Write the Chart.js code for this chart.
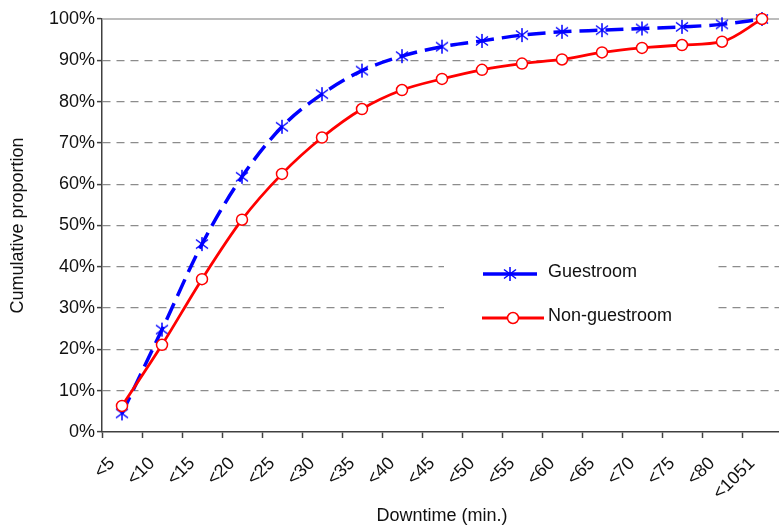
<!DOCTYPE html>
<html>
<head>
<meta charset="utf-8">
<script src="https://cdn.jsdelivr.net/npm/chart.js@4/dist/chart.umd.min.js"></script>
<style>
  html, body { margin: 0; padding: 0; overflow: hidden; background: #fff; }
</style>
</head>
<body>
<canvas id="c" width="790" height="532"></canvas>
<script>
// categories and series (proportions 0..1)
const categories = ['<5','<10','<15','<20','<25','<30','<35','<40','<45','<50','<55','<60','<65','<70','<75','<80','<1051'];
const guestroom = [0.045,0.248,0.455,0.618,0.739,0.818,0.875,0.910,0.933,0.947,0.961,0.969,0.973,0.977,0.981,0.987,1.0];
const nonGuestroom = [0.063,0.211,0.370,0.514,0.625,0.713,0.782,0.828,0.855,0.877,0.892,0.902,0.919,0.930,0.937,0.945,1.0];
const yTicks = [0,0.1,0.2,0.3,0.4,0.5,0.6,0.7,0.8,0.9,1.0];

const FONT = "'Liberation Sans', Arial, sans-serif";

// asterisk marker (vertical + two diagonals)
function makeAsterisk() {
  const c = document.createElement('canvas');
  c.width = 16; c.height = 16;
  const g = c.getContext('2d');
  g.strokeStyle = '#0000ff';
  g.lineWidth = 1.5;
  g.beginPath();
  g.moveTo(8, 1); g.lineTo(8, 15);
  g.moveTo(2, 3.5); g.lineTo(14, 12.5);
  g.moveTo(2, 12.5); g.lineTo(14, 3.5);
  g.stroke();
  return c;
}
const asterisk = makeAsterisk();

// white box legend inside plot + top border line
const extras = {
  id: 'extras',
  beforeDatasetsDraw(chart) {
    const { ctx, chartArea } = chart;
    ctx.save();
    ctx.strokeStyle = '#a6a6a6';
    ctx.lineWidth = 1.5;
    ctx.beginPath();
    ctx.moveTo(chartArea.left, chartArea.top);
    ctx.lineTo(chartArea.right, chartArea.top);
    ctx.stroke();
    ctx.fillStyle = '#fff';
    ctx.fillRect(444, 242, 273, 96);
    ctx.restore();
  },
  afterDatasetsDraw(chart) {
    const { ctx } = chart;
    const rows = [
      { ds: chart.data.datasets[0], x1: 483, x2: 537, y: 274 },
      { ds: chart.data.datasets[1], x1: 482, x2: 544, y: 318 },
    ];
    ctx.save();
    rows.forEach(r => {
      ctx.strokeStyle = r.ds.borderColor;
      ctx.lineWidth = r.ds.borderWidth;
      ctx.setLineDash([]);
      ctx.beginPath();
      ctx.moveTo(r.x1, r.y);
      ctx.lineTo(r.x2, r.y);
      ctx.stroke();
      const mx = (r.x1 + r.x2) / 2;
      if (r.ds.pointStyle === 'circle') {
        ctx.beginPath();
        ctx.arc(mx, r.y, r.ds.pointRadius, 0, Math.PI * 2);
        ctx.fillStyle = r.ds.pointBackgroundColor;
        ctx.fill();
        ctx.lineWidth = r.ds.pointBorderWidth;
        ctx.strokeStyle = r.ds.pointBorderColor;
        ctx.stroke();
      } else {
        ctx.drawImage(r.ds.pointStyle, mx - 8, r.y - 8);
      }
      ctx.fillStyle = '#111';
      ctx.font = '18px ' + FONT;
      ctx.textBaseline = 'middle';
      ctx.fillText(r.ds.label, 548, r.y - 2);
    });
    ctx.restore();
  }
};

new Chart(document.getElementById('c'), {
  type: 'line',
  data: {
    labels: categories,
    datasets: [
      {
        label: 'Guestroom',
        data: guestroom,
        borderColor: '#0000ff',
        borderWidth: 3.5,
        borderDash: [18, 8],
        pointStyle: asterisk,
        pointRadius: 8,
        pointBorderColor: '#0000ff',
        pointBackgroundColor: '#0000ff',
        cubicInterpolationMode: 'monotone',
        clip: false,
        order: 2,
      },
      {
        label: 'Non-guestroom',
        data: nonGuestroom,
        borderColor: '#ff0000',
        borderWidth: 2.8,
        pointStyle: 'circle',
        pointRadius: 5.5,
        pointBorderWidth: 1.5,
        pointBorderColor: '#ff0000',
        pointBackgroundColor: '#ffffff',
        cubicInterpolationMode: 'monotone',
        clip: false,
        order: 1,
      },
    ],
  },
  options: {
    responsive: false,
    animation: false,
    layout: { autoPadding: false, padding: { top: 19, right: 8, left: 0, bottom: 0 } },
    plugins: {
      legend: { display: false },
      tooltip: { enabled: false },
    },
    scales: {
      x: {
        type: 'category',
        offset: true,
        grid: {
          offset: true,
          drawOnChartArea: false,
          drawTicks: true,
          tickLength: 6,
          tickColor: '#404040',
          tickWidth: 1.5,
        },
        border: { color: '#404040', width: 1.5 },
        ticks: {
          color: '#111',
          font: { family: FONT, size: 18 },
          minRotation: 45,
          maxRotation: 45,
          autoSkip: false,
          padding: 15,
          labelOffset: -10,
        },
        title: {
          display: true,
          text: 'Downtime (min.)',
          color: '#111',
          font: { family: FONT, size: 18 },
          padding: { top: 4, bottom: 5 },
        },
        afterFit(scale) {
          scale.height = 100;
          scale.paddingLeft = 0;
          scale.paddingRight = 0;
        },
      },
      y: {
        min: 0,
        max: 1,
        afterBuildTicks(scale) { scale.ticks = yTicks.map(v => ({ value: v })); },
        grid: {
          color: c => (c.tick && (c.tick.value === 0 || c.tick.value === 1)) ? 'rgba(0,0,0,0)' : '#8c8c8c',
          lineWidth: 1.2,
          tickLength: 5,
          tickColor: '#404040',
          tickWidth: 1.5,
        },
        border: { color: '#404040', width: 1.5, dash: [8, 6] },
        ticks: {
          color: '#111',
          font: { family: FONT, size: 18 },
          padding: 2,
          callback: v => Math.round(v * 100) + '%',
        },
        title: {
          display: true,
          text: 'Cumulative proportion',
          color: '#111',
          font: { family: FONT, size: 18 },
          padding: { top: 7, bottom: 4 },
        },
        afterFit(scale) { scale.width = 102; },
      },
    },
  },
  plugins: [extras],
});
</script>
</body>
</html>
